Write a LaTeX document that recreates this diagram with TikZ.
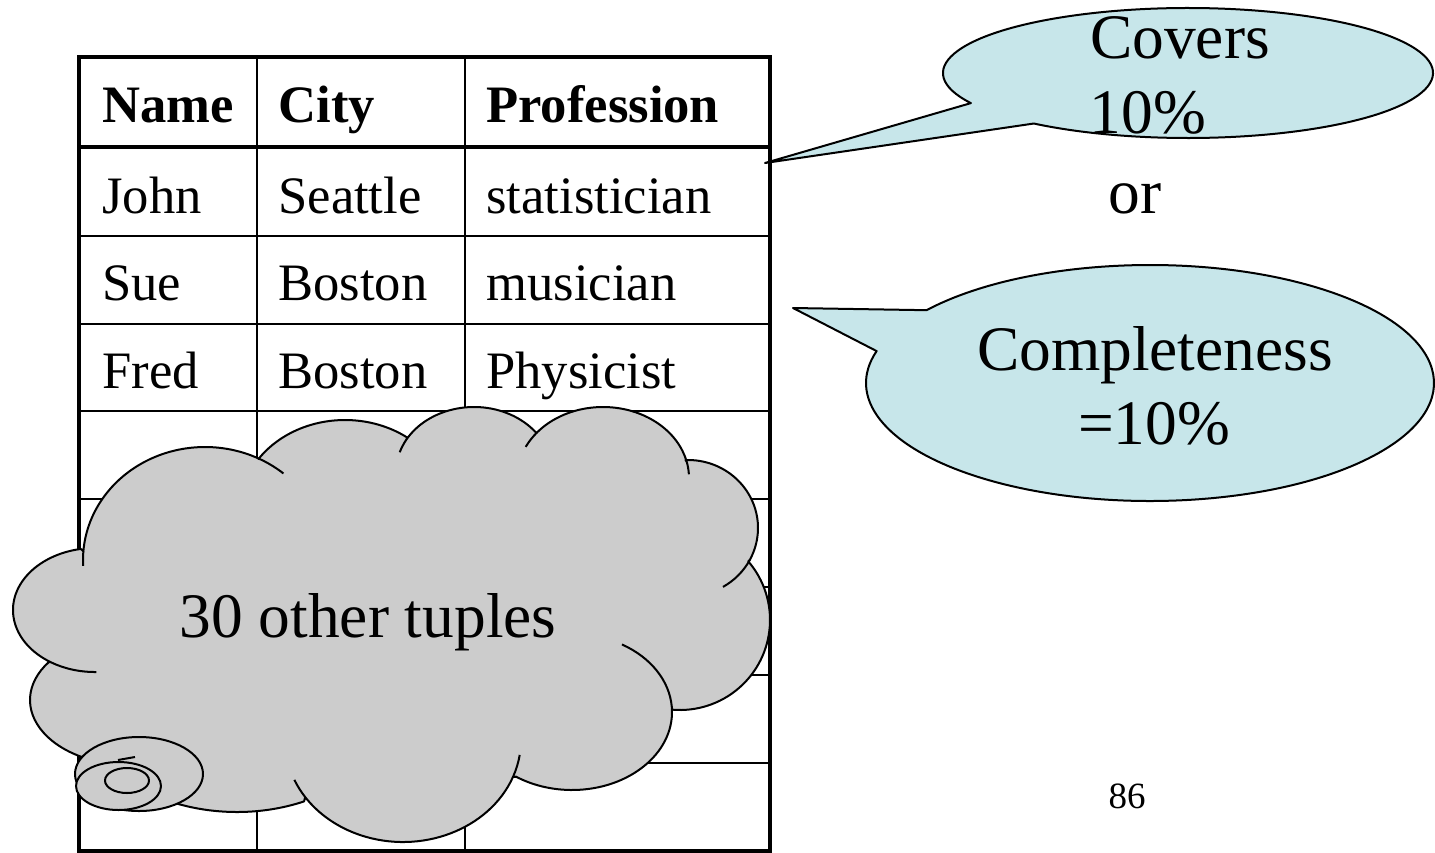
\documentclass[tikz,border=0pt]{standalone}
\usepackage{fontspec}
\setmainfont{Liberation Serif}
\usetikzlibrary{calc}
\definecolor{cloudgray}{RGB}{204,204,204}
\definecolor{calloutblue}{RGB}{199,230,234}
\begin{document}
\begin{tikzpicture}[x=0.5pt,y=-0.5pt,
  thickrule/.style={line width=1.8pt},
  thinrule/.style={line width=1pt},
  celltext/.style={anchor=base west,inner sep=0pt,font=\fontsize{26.3}{30}\selectfont},
  headtext/.style={anchor=base west,inner sep=0pt,font=\fontsize{26.3}{30}\selectfont\bfseries},
  bigtext/.style={anchor=base,inner sep=0pt,font=\fontsize{31.7}{36}\selectfont},
  outline/.style={draw=black,line width=1pt,line join=round},
  lobetick/.style={draw=black,line width=1pt}]
\useasboundingbox (0,0) rectangle (1435,852);

% ---- table grid ----
\foreach \y in {236,324,411,499,587,675,763}
  \draw[thinrule] (79,\y) -- (770,\y);
\foreach \x in {257,465}
  \draw[thinrule] (\x,57) -- (\x,851);
\draw[thickrule] (79,147) -- (770,147);
\draw[thickrule] (79,57) rectangle (770,851);

% ---- table contents ----
\node[headtext] (hname) at (102,122) {Name};
\node[headtext] (hcity) at (278,122) {City};
\node[headtext] (hprof) at (486,122) {Profession};
\node[celltext] (n1) at (102,213) {John};
\node[celltext] (c1) at (278,213) {Seattle};
\node[celltext] (p1) at (486,213) {statistician};
\node[celltext] (n2) at (102,300) {Sue};
\node[celltext] (c2) at (278,300) {Boston};
\node[celltext] (p2) at (486,300) {musician};
\node[celltext] (n3) at (102,388) {Fred};
\node[celltext] (c3) at (278,388) {Boston};
\node[celltext] (p3) at (486,388) {Physicist};

% ---- cloud outline, one elliptic arc per lobe ----
\path[outline,fill=cloudgray]
  ($(237,697)+(65.2:160 and 115)$) arc[start angle=65.2,end angle=140,x radius=160,y radius=115]
  -- ($(130,700)+(60:100 and 65)$) arc[start angle=60,end angle=215.5,x radius=100,y radius=65]
  -- ($(95,610)+(123:82 and 62)$) arc[start angle=123,end angle=260,x radius=82,y radius=62]
  -- ($(205,560)+(184.5:122 and 113)$) arc[start angle=184.5,end angle=296,x radius=122,y radius=113]
  -- ($(345,510)+(214.5:105 and 90)$) arc[start angle=214.5,end angle=306.5,x radius=105,y radius=90]
  -- ($(474,472)+(207:78 and 65)$) arc[start angle=207,end angle=322.8,x radius=78,y radius=65]
  -- ($(603,478)+(220:86 and 71)$) arc[start angle=220,end angle=346.9,x radius=86,y radius=71]
  -- ($(688,528)+(268:70 and 68)$) arc[start angle=268,end angle=388,x radius=70,y radius=68]
  -- ($(680,620)+(-40.7:90 and 90)$) arc[start angle=-40.7,end angle=95,x radius=90,y radius=90]
  -- ($(572,712)+(-4:100 and 78)$) arc[start angle=-4,end angle=124,x radius=100,y radius=78]
  -- ($(403,740)+(21.3:118 and 102)$) arc[start angle=21.3,end angle=146,x radius=118,y radius=102]
  -- cycle;

% inner continuations of the lobes
\draw[lobetick] ($(205,560)+(177:122 and 113)$) arc[start angle=177,end angle=184.5,x radius=122,y radius=113];
\draw[lobetick] ($(205,560)+(296:122 and 113)$) arc[start angle=296,end angle=310,x radius=122,y radius=113];
\draw[lobetick] ($(474,472)+(197.7:78 and 65)$) arc[start angle=197.7,end angle=207,x radius=78,y radius=65];
\draw[lobetick] ($(603,478)+(206:86 and 71)$) arc[start angle=206,end angle=220,x radius=86,y radius=71];
\draw[lobetick] ($(603,478)+(346.9:86 and 71)$) arc[start angle=346.9,end angle=357,x radius=86,y radius=71];
\draw[lobetick] ($(688,528)+(28:70 and 68)$) arc[start angle=28,end angle=60,x radius=70,y radius=68];
\draw[lobetick] ($(572,712)+(-60:100 and 78)$) arc[start angle=-60,end angle=-4,x radius=100,y radius=78];
\draw[lobetick] ($(403,740)+(8.4:118 and 102)$) arc[start angle=8.4,end angle=21.3,x radius=118,y radius=102];
\draw[lobetick] ($(403,740)+(146:118 and 102)$) arc[start angle=146,end angle=157,x radius=118,y radius=102];
\draw[lobetick] ($(95,610)+(89:82 and 62)$) arc[start angle=89,end angle=123,x radius=82,y radius=62];

% small thought bubbles
\draw[outline,fill=cloudgray] (139,774) ellipse[x radius=64,y radius=37];
\draw[outline,fill=cloudgray] (118.5,786) ellipse[x radius=42.5,y radius=24];
\draw[outline,fill=cloudgray] (127,780.5) ellipse[x radius=22,y radius=12.5];
\draw[lobetick] (118,760) -- (135,757);

\node[bigtext] (tuples) at (368,637) {30 other tuples};

% ---- callouts ----
\coordinate (coverstip) at (765,163);
\path[outline,fill=calloutblue]
  ($(1188,73)+(152.4:245 and 65)$) arc[start angle=152.4,end angle=489,x radius=245,y radius=65]
  -- (coverstip) -- cycle;
\node[bigtext] (covers) at (1180,58) {Covers};
\node[bigtext] (coverspct) at (1148,133) {10\%};

\node[bigtext] (or) at (1135,213) {or};

\coordinate (compltip) at (793,308);
\path[outline,fill=calloutblue]
  ($(1150,383)+(218.1:284 and 118)$) arc[start angle=218.1,end angle=555.7,x radius=284,y radius=118]
  -- (compltip) -- cycle;
\node[bigtext] (compl) at (1155,370) {Completeness};
\node[bigtext] (complpct) at (1154,444) {=10\%};

\node[anchor=base,inner sep=0pt,font=\fontsize{18.5}{22}\selectfont] (page) at (1127,808) {86};
\end{tikzpicture}
\end{document}
